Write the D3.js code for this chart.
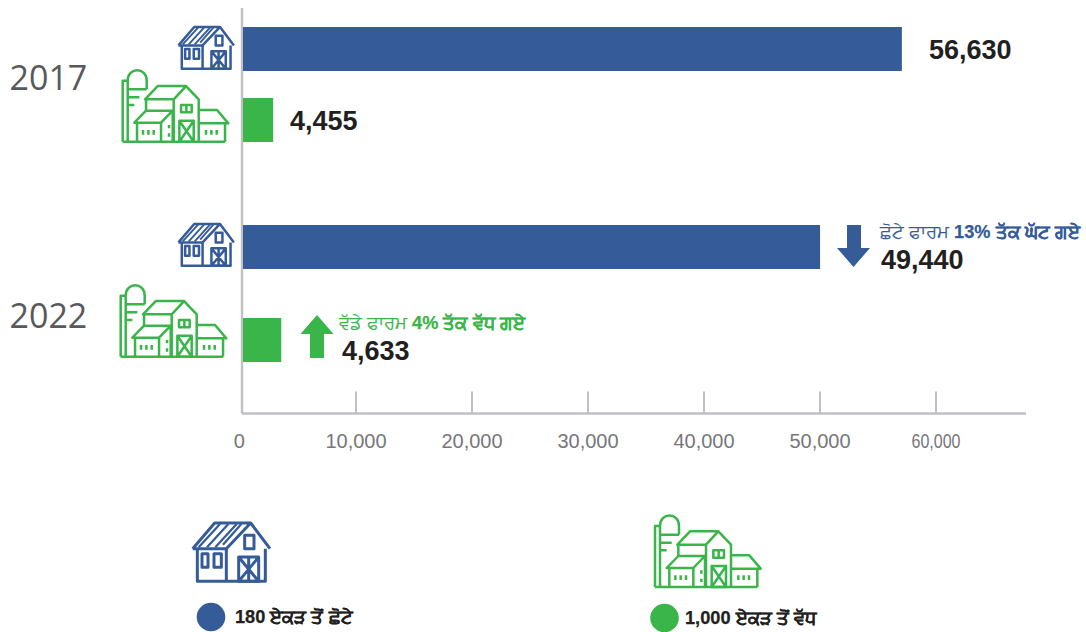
<!DOCTYPE html>
<html><head><meta charset="utf-8">
<script src="https://cdn.jsdelivr.net/npm/d3@7"></script>
<style>html,body{margin:0;padding:0;background:#fff}svg{display:block}</style></head>
<body><svg id="c" width="1086" height="632"></svg>
<script>
const rows = ["2017 small","2017 large","2022 small","2022 large"];
const barReadings = [57100, 2900, 50050, 3600];
const valueLabels = ["56,630","4,455","49,440","4,633"];
const tickValues = [0,10000,20000,30000,40000,50000,60000];
const yearLabels = ["2017","2022"];
const noteSmall = ["ਛੋਟੇ ਫਾਰਮ ","13% ਤੱਕ ਘੱਟ ਗਏ"];
const noteLarge = ["ਵੱਡੇ ਫਾਰਮ ","4% ਤੱਕ ਵੱਧ ਗਏ"];
const legendLabels = ["180 ਏਕੜ ਤੋਂ ਛੋਟੇ","1,000 ਏਕੜ ਤੋਂ ਵੱਧ"];

const BLUE="#355c99", GREEN="#39b54a", AXIS="#bfbfc6", DARK="#231f20", TICK="#77777b";
const svg=d3.select("#c");
const x=d3.scaleLinear().domain([0,60000]).range([239.5,935.5]);
const y=d3.scaleOrdinal().domain(rows).range([27,98,225,318]);
const AX0=242, AXY=413.5, barH=44;
const sans="'Liberation Sans',Arial,sans-serif";

// axis
const axis=d3.axisBottom(x).tickValues(tickValues).tickSize(0).tickFormat(d3.format(","));
const gx=svg.append("g").attr("transform",`translate(0,${AXY})`).call(axis);
gx.select(".domain").remove();
gx.selectAll(".tick").filter(d=>d>0).append("line").attr("y1",-22).attr("y2",0).attr("stroke",AXIS).attr("stroke-width",2);
gx.selectAll(".tick text").attr("y",27).attr("dy",".35em").attr("fill",TICK)
  .style("font-family",sans).style("font-size","20px");
gx.selectAll(".tick text").filter(d=>d===0).attr("dx",-0.8);
gx.selectAll(".tick text").filter(d=>d===60000).attr("textLength",49).attr("lengthAdjust","spacingAndGlyphs");
svg.append("line").attr("x1",AX0).attr("x2",1026).attr("y1",AXY).attr("y2",AXY).attr("stroke",AXIS).attr("stroke-width",2.4);
svg.append("line").attr("x1",AX0).attr("x2",AX0).attr("y1",8).attr("y2",AXY).attr("stroke",AXIS).attr("stroke-width",2.4);

// bars
svg.selectAll("rect.bar").data(rows).join("rect").attr("class","bar")
 .attr("x",AX0+1).attr("y",d=>y(d)).attr("height",barH)
 .attr("width",(d,i)=>x(barReadings[i])-AX0-1)
 .attr("fill",(d,i)=>i%2?GREEN:BLUE);

// value labels
const labelX=[929,290,881,342], labelY=[58.5,129.5,268.5,359.5];
svg.selectAll("text.val").data(valueLabels).join("text").attr("class","val")
 .attr("x",(d,i)=>labelX[i]).attr("y",(d,i)=>labelY[i]).text(d=>d)
 .attr("fill",DARK).style("font-family",sans).style("font-weight",700).style("font-size","27px");

// years
svg.selectAll("text.year").data(yearLabels).join("text").attr("class","year")
 .attr("x",9.5).attr("y",(d,i)=>[90,328][i]).text(d=>d)
 .attr("fill","#58595b").style("font-family","'Open Sans',sans-serif").style("font-size","34px");

// icons (drawn in a local design grid)
function barn(g,c,w){
  const s=g.append("g").attr("fill","none").attr("stroke",c).attr("stroke-width",w).attr("stroke-linejoin","round").attr("stroke-linecap","butt");
  s.append("path").attr("d","M14,92L80,15H188L246,92M14,92H115L188,15");
  s.append("path").attr("stroke-width",w*.75).attr("d","M32,88L96,18M57,88L121,18M82,88L146,18M105,80L160,18");
  s.append("path").attr("d","M28,92V190H232V92M115,92V190");
  s.append("path").attr("d","M42,107h18v41h-18zM78,107h22v41h-22zM170,52h28v40h-28z");
  s.append("path").attr("d","M152,117h60v73h-60zM152,117L212,190M212,117L152,190M182,117V190");
}
function farm(g,c,w){
  const s=g.append("g").attr("fill","none").attr("stroke",c).attr("stroke-width",w).attr("stroke-linejoin","round").attr("stroke-linecap","butt");
  s.append("path").attr("d","M15,225V42H30M30,225V42C30,0 87,0 87,42V68M30,68H87M30,92H65M30,115H50M15,225H322");
  s.append("path").attr("d","M82,98L120,58H205L168,98ZM205,58L243,98V225M168,98V225M85,98V132");
  s.append("path").attr("d","M190,115h32v22h-32zM206,115v22");
  s.append("path").attr("d","M185,162h43v63h-43zM185,162L228,225M228,162L185,225");
  s.append("path").attr("d","M50,168L85,132H165L130,168ZM58,168V225M130,168V225M165,132V225");
  s.append("path").attr("d","M245,130H298L332,170H245M322,170V225");
  s.append("path").attr("d","M76,190V204M92,190V204M108,190V204M265,190V204M281,190V204M297,190V204M154,175V185M154,200V210");
}
function place(fn,c,tx,ty,k,w){fn(svg.append("g").attr("transform",`translate(${tx},${ty}) scale(${k})`),c,w);}
place(barn,BLUE,175.1,23.4,.239,10.5);
place(barn,BLUE,175.1,220.4,.239,10.5);
place(farm,GREEN,117.7,66.7,1/3,7.5);
place(farm,GREEN,115.7,281.7,1/3,7.5);
place(barn,BLUE,188,518,1/3,9);
place(farm,GREEN,650,512,1/3,7.5);

// arrows
const arrow=d3.line();
svg.append("path").attr("fill",BLUE).attr("d",arrow([[847,225],[861,225],[861,248],[870,248],[853.5,267],[837,248],[847,248]])+"Z");
svg.append("path").attr("fill",GREEN).attr("d",arrow([[310,358],[324,358],[324,334],[333.5,334],[317,315],[300.5,334],[310,334]])+"Z");

// notes
function note(tx,ty,parts,c){
  const t=svg.append("text").attr("x",tx).attr("y",ty).attr("fill",c).attr("stroke",c).attr("stroke-width",.25).style("font-family",sans).style("font-size","18.2px");
  t.append("tspan").text(parts[0]);
  t.append("tspan").style("font-weight",700).text(parts[1]);
}
note(880,238,noteSmall,BLUE);
note(339,329,noteLarge,GREEN);

// legend
svg.selectAll("circle.lg").data(legendLabels).join("circle").attr("class","lg")
 .attr("cx",(d,i)=>[211,664.5][i]).attr("cy",(d,i)=>[617,618][i]).attr("r",14.3).attr("fill",(d,i)=>i?GREEN:BLUE);
svg.selectAll("text.lg").data(legendLabels).join("text").attr("class","lg")
 .attr("x",(d,i)=>[235,685][i]).attr("y",(d,i)=>[623,624][i]).text(d=>d)
 .attr("fill",DARK).attr("stroke",DARK).attr("stroke-width",.25).style("font-family",sans).style("font-weight",700).style("font-size","18.2px");
</script></body></html>
